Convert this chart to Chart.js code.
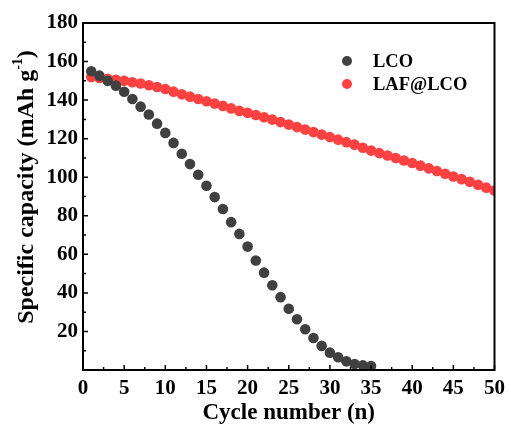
<!DOCTYPE html>
<html>
<head>
<meta charset="utf-8">
<script src="https://cdn.jsdelivr.net/npm/chart.js@4.4.1/dist/chart.umd.min.js"></script>
<style>
  html, body { margin: 0; padding: 0; background: #fff; }
  #wrap { width: 511px; height: 430px; position: relative; }
</style>
</head>
<body>
<div id="wrap"><canvas id="cap-chart"></canvas></div>
<script>
// cycle numbers
const lcoCycles = [];
for (let i = 1; i <= 35; i++) lcoCycles.push(i);
const lafCycles = [];
for (let i = 1; i <= 50; i++) lafCycles.push(i);

// specific capacity, mAh g-1
const lcoCapacity = [
    155.0, 152.7, 150.0, 147.5, 144.3, 140.6, 136.6, 132.5, 127.8, 123.0,
    117.8, 112.2, 106.8, 101.3, 95.6, 89.7, 83.5, 76.7, 70.6, 64.0,
    56.8, 50.5, 44.0, 37.8, 31.8, 26.3, 21.1, 16.6, 12.5, 9.0,
    6.6, 4.5, 3.1, 2.4, 2.1
];
const lafCapacity = [
    152.0, 151.5, 151.0, 150.5, 150.0, 149.3, 148.6, 147.7, 146.8, 145.8,
    144.4, 143.0, 141.8, 140.6, 139.4, 138.2, 137.0, 135.7, 134.4, 133.4,
    132.3, 131.1, 129.9, 128.6, 127.3, 126.0, 124.7, 123.4, 122.1, 120.8,
    119.5, 118.2, 116.9, 115.3, 113.8, 112.5, 111.3, 110.0, 108.7, 107.4,
    106.0, 104.6, 103.2, 101.8, 100.4, 99.0, 97.6, 96.1, 94.6, 93.1
];
const seriesNames = ['LCO', 'LAF@LCO'];
const seriesColors = ['#404040', '#ff4141'];

const xTicks = [0, 5, 10, 15, 20, 25, 30, 35, 40, 45, 50];
const yTicks = [20, 40, 60, 80, 100, 120, 140, 160, 180];

const serif = "'Liberation Serif', 'Times New Roman', serif";

function toPoints(xs, ys) {
    return xs.map(function(x, i) { return { x: x, y: ys[i] }; });
}

// frame, inward ticks, legend and y title
const decor = {
    id: 'decor',
    afterDraw: function(chart) {
        const c = chart.ctx;
        const a = chart.chartArea;
        const xs = chart.scales.x;
        const ys = chart.scales.y;
        c.save();
        c.strokeStyle = '#000';
        c.lineWidth = 1.5;
        // minor / major ticks pointing inward
        c.beginPath();
        for (let v = 0; v <= 50; v += 2.5) {
            const px = xs.getPixelForValue(v);
            const len = (v % 5 === 0) ? 5 : 3;
            c.moveTo(px, a.bottom);
            c.lineTo(px, a.bottom - len);
        }
        for (let v = 0; v <= 180; v += 10) {
            const py = ys.getPixelForValue(v);
            const len = (v % 20 === 0) ? 5 : 3;
            c.moveTo(a.left, py);
            c.lineTo(a.left + len, py);
        }
        c.stroke();
        c.lineWidth = 2;
        c.strokeRect(a.left, a.top, a.right - a.left, a.bottom - a.top);

        // legend
        c.font = 'bold 18.5px ' + serif;
        c.textBaseline = 'middle';
        c.textAlign = 'left';
        chart.data.datasets.forEach(function(ds, i) {
            const cy = 61 + i * 23;
            c.fillStyle = ds.backgroundColor;
            c.beginPath();
            c.arc(347, cy, 5, 0, Math.PI * 2);
            c.fill();
            c.fillStyle = '#000';
            c.fillText(ds.label, 373, cy + 1);
        });

        // y axis title with superscript
        const main = 'Specific capacity (mAh g';
        const sup = '-1';
        const end = ')';
        c.font = 'bold 24px ' + serif;
        const w1 = c.measureText(main).width;
        const w3 = c.measureText(end).width;
        c.font = 'bold 14px ' + serif;
        const w2 = c.measureText(sup).width;
        const total = w1 + w2 + w3;
        c.translate(25, 187);
        c.rotate(-Math.PI / 2);
        c.fillStyle = '#000';
        c.textBaseline = 'alphabetic';
        let x0 = -total / 2;
        c.font = 'bold 24px ' + serif;
        c.fillText(main, x0, 8);
        c.font = 'bold 14px ' + serif;
        c.fillText(sup, x0 + w1, -3);
        c.font = 'bold 24px ' + serif;
        c.fillText(end, x0 + w1 + w2, 8);
        c.restore();
    }
};

const ctx = document.getElementById('cap-chart').getContext('2d');
const chart = new Chart(ctx, {
    type: 'scatter',
    data: {
        datasets: [
            {
                label: seriesNames[0],
                data: toPoints(lcoCycles, lcoCapacity),
                backgroundColor: seriesColors[0],
                borderWidth: 0,
                pointRadius: 5.3
            },
            {
                label: seriesNames[1],
                data: toPoints(lafCycles, lafCapacity),
                backgroundColor: seriesColors[1],
                borderWidth: 0,
                pointRadius: 5.3
            }
        ]
    },
    options: {
        responsive: true,
        maintainAspectRatio: false,
        animation: false,
        layout: { padding: { left: 0, top: 23, right: 13, bottom: 0 } },
        plugins: {
            legend: { display: false },
            tooltip: { enabled: false }
        },
        scales: {
            x: {
                type: 'linear',
                min: 0,
                max: 50,
                afterFit: function(s) { s.height = 60; },
                afterBuildTicks: function(s) {
                    s.ticks = xTicks.map(function(v) { return { value: v }; });
                },
                grid: { display: false, drawTicks: false },
                border: { display: false },
                ticks: {
                    padding: 6,
                    color: '#000',
                    maxRotation: 0,
                    font: { family: serif, size: 21, weight: 'bold' }
                },
                title: {
                    display: true,
                    text: 'Cycle number (n)',
                    color: '#000',
                    padding: { top: 0, bottom: 3 },
                    font: { family: serif, size: 23, weight: 'bold' }
                }
            },
            y: {
                min: 0,
                max: 180,
                afterFit: function(s) { s.width = 83; },
                afterBuildTicks: function(s) {
                    s.ticks = yTicks.map(function(v) { return { value: v }; });
                },
                grid: { display: false, drawTicks: false },
                border: { display: false },
                ticks: {
                    padding: 5,
                    color: '#000',
                    font: { family: serif, size: 21, weight: 'bold' }
                }
            }
        }
    },
    plugins: [decor]
});
</script>
</body>
</html>
